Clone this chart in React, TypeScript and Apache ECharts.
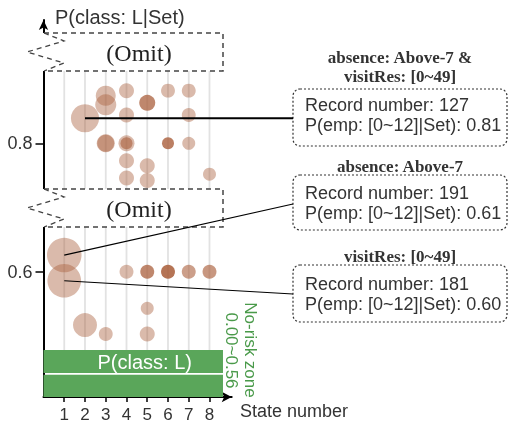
import React, { useEffect, useRef } from "react";
import * as echarts from "echarts";

// ---- data ----
const stateTicks = [1, 2, 3, 4, 5, 6, 7, 8];
const yTickValues = [0.6, 0.8];

const stateNumber = [2, 3, 3, 4, 4, 4, 4, 4, 4, 3, 3, 5, 5, 5, 6, 6, 7, 7, 7, 8, 1, 1, 4, 5, 6, 7, 8, 5, 2, 3, 5];
const probability = [
  0.839, 0.874, 0.86, 0.882, 0.844, 0.8, 0.8, 0.773, 0.746, 0.8, 0.8, 0.863, 0.765, 0.742, 0.882, 0.8, 0.882, 0.844,
  0.8, 0.752, 0.626, 0.586, 0.6, 0.6, 0.6, 0.6, 0.6, 0.543, 0.517, 0.503, 0.503,
];
const recordNumber = [
  127, 64, 71, 36, 36, 41, 23, 36, 36, 52, 46, 41, 36, 36, 31, 23, 31, 31, 27, 27, 191, 181, 31, 31, 31, 31, 31, 27, 92,
  31, 36,
];
const intensity = [
  0.43, 0.43, 0.43, 0.43, 0.43, 0.43, 0.6, 0.43, 0.43, 0.43, 0.43, 0.75, 0.43, 0.43, 0.43, 0.8, 0.43, 0.43, 0.43, 0.43,
  0.43, 0.43, 0.43, 0.75, 0.87, 0.6, 0.65, 0.43, 0.43, 0.43, 0.43,
];

const annotIndex = [0, 20, 21];
const annotTitles = [["absence: Above-7 &", "visitRes: [0~49]"], ["absence: Above-7"], ["visitRes: [0~49]"]];
const annotRecords = [127, 191, 181];
const annotPEmp = ["0.81", "0.61", "0.60"];

const SANS = "'Liberation Sans', Arial, Helvetica, sans-serif";
const SERIF = "'Liberation Serif', 'Times New Roman', serif";

export default function App() {
  const ref = useRef<HTMLDivElement>(null);
  useEffect(() => {
    const chart = echarts.init(ref.current!, null, { renderer: "svg" });
    const option: any = {
      animation: false,
      grid: { left: 43.5, right: 277.3, top: 20, bottom: 31, outerBoundsMode: "none", containLabel: false },
      xAxis: {
        type: "value",
        min: 0,
        max: 9.07,
        splitLine: { show: false },
        axisLine: {
          show: true,
          onZero: false,
          symbol: ["none", "arrow"],
          symbolSize: [8, 10],
          lineStyle: { color: "#000", width: 2 },
        },
        axisTick: { show: true, customValues: stateTicks, length: 5, lineStyle: { color: "#000", width: 1.5 } },
        axisLabel: { customValues: stateTicks, fontSize: 17, color: "#333", margin: 9, fontFamily: SANS },
      },
      yAxis: {
        type: "value",
        min: 0.405,
        max: 0.992,
        splitLine: { show: false },
        axisLine: {
          show: true,
          onZero: false,
          symbol: ["none", "arrow"],
          symbolSize: [7, 10],
          lineStyle: { color: "#000", width: 2 },
        },
        axisTick: { show: true, customValues: yTickValues, length: 8, lineStyle: { color: "#000", width: 1.5 } },
        axisLabel: {
          customValues: yTickValues,
          formatter: (v: number) => v.toFixed(1),
          fontSize: 18,
          color: "#333",
          margin: 11,
          fontFamily: SANS,
        },
      },
      series: [
        {
          type: "custom",
          z: 1,
          silent: true,
          data: stateTicks.map((s) => [s, 0.913]),
          encode: { x: 0, y: 1 },
          renderItem: (params: any, api: any) => {
            const x = api.value(0);
            const p1 = api.coord([x, api.value(1)]);
            const p2 = api.coord([x, 0.478]);
            return {
              type: "line",
              shape: { x1: p1[0], y1: p1[1], x2: p2[0], y2: p2[1] },
              style: { stroke: "#e2e2e2", lineWidth: 1.8 },
            };
          },
        },
        {
          type: "scatter",
          z: 2,
          silent: true,
          itemStyle: { opacity: 1 },
          data: stateNumber.map((s, i) => ({
            value: [s, probability[i]],
            itemStyle: { color: `rgba(170,95,60,${intensity[i]})` },
          })),
          symbolSize: (_v: any, p: any) => 2 * 1.25 * Math.sqrt(recordNumber[p.dataIndex]),
          markArea: {
            silent: true,
            label: { show: false },
            itemStyle: { color: "#5aa65a", opacity: 1 },
            data: [
              [{ coord: [0, 0.4425] }, { coord: [8.65, 0.478] }],
              [{ coord: [0, 0.405] }, { coord: [8.65, 0.4395] }],
            ],
          },
        },
      ],
    };
    chart.setOption(option);

    const pts = annotIndex.map(
      (i) => chart.convertToPixel({ seriesIndex: 1 }, [stateNumber[i], probability[i]]) as number[]
    );
    const ends = [
      [293, pts[0][1]],
      [293, 204],
      [293, 294],
    ];
    const boxes = [
      { y: 89, h: 57, titleY: [57, 76], textY: [105, 125] },
      { y: 175, h: 55, titleY: [166], textY: [193, 213] },
      { y: 265, h: 57, titleY: [256.5], textY: [284, 304] },
    ];

    const g: any[] = [];
    // break boxes
    const breaks = [
      { top: 33, bottom: 71 },
      { top: 189, bottom: 227 },
    ];
    breaks.forEach((b) => {
      const h = b.bottom - b.top;
      g.push({ type: "rect", z: 100, shape: { x: 40, y: b.top, width: 184, height: h }, style: { fill: "#fff" } });
      g.push({
        type: "polyline",
        z: 101,
        shape: { points: [[44, b.top], [223, b.top], [223, b.bottom], [44, b.bottom]] },
        style: { stroke: "#444", lineWidth: 1.5, lineDash: [5, 4], fill: null },
      });
      g.push({
        type: "polyline",
        z: 101,
        shape: {
          points: [
            [44, b.top],
            [64, b.top + 8],
            [27, b.top + h / 2],
            [64, b.bottom - 8],
            [44, b.bottom],
          ],
        },
        style: { stroke: "#444", lineWidth: 1.3, lineDash: [5, 4], fill: null },
      });
      g.push({
        type: "text",
        z: 102,
        x: 139,
        y: b.top + h / 2 + 1,
        style: {
          text: "(Omit)",
          fontFamily: SERIF,
          fontSize: 24,
          fill: "#222",
          align: "center",
          verticalAlign: "middle",
        },
      });
    });

    // annotation boxes
    boxes.forEach((b, k) => {
      g.push({
        type: "rect",
        z: 100,
        shape: { x: 293, y: b.y, width: 214, height: b.h, r: 7 },
        style: { fill: "#fff", stroke: "#333", lineWidth: 1.2, lineDash: [2, 2] },
      });
      annotTitles[k].forEach((t, j) => {
        g.push({
          type: "text",
          z: 102,
          x: 400,
          y: b.titleY[j],
          style: {
            text: t,
            fontFamily: SERIF,
            fontWeight: "bold",
            fontSize: 17,
            fill: "#333",
            align: "center",
            verticalAlign: "middle",
          },
        });
      });
      const lines = [`Record number: ${annotRecords[k]}`, `P(emp: [0~12]|Set): ${annotPEmp[k]}`];
      lines.forEach((t, j) => {
        g.push({
          type: "text",
          z: 102,
          x: 305,
          y: b.textY[j],
          style: { text: t, fontFamily: SANS, fontSize: 18, fill: "#333", align: "left", verticalAlign: "middle" },
        });
      });
    });

    // leader lines
    pts.forEach((p, k) => {
      g.push({
        type: "line",
        z: 110,
        shape: { x1: p[0], y1: p[1], x2: ends[k][0], y2: ends[k][1] },
        style: { stroke: "#000", lineWidth: k === 0 ? 2 : 1.2 },
      });
    });

    // texts
    g.push({
      type: "text",
      z: 102,
      x: 55,
      y: 17,
      style: { text: "P(class: L|Set)", fontFamily: SANS, fontSize: 20, fill: "#333", align: "left", verticalAlign: "middle" },
    });
    g.push({
      type: "text",
      z: 102,
      x: 240,
      y: 411,
      style: { text: "State number", fontFamily: SANS, fontSize: 18, fill: "#333", align: "left", verticalAlign: "middle" },
    });
    g.push({
      type: "text",
      z: 102,
      x: 144.7,
      y: 362,
      style: { text: "P(class: L)", fontFamily: SANS, fontSize: 20, fill: "#fff", align: "center", verticalAlign: "middle" },
    });
    g.push({
      type: "text",
      z: 102,
      x: 250,
      y: 350,
      rotation: -Math.PI / 2,
      style: { text: "No-risk zone", fontFamily: SANS, fontSize: 17, fill: "#4a9a4a", align: "center", verticalAlign: "middle" },
    });
    g.push({
      type: "text",
      z: 102,
      x: 231.7,
      y: 350.5,
      rotation: -Math.PI / 2,
      style: { text: "0.00~0.56", fontFamily: SANS, fontSize: 17, fill: "#4a9a4a", align: "center", verticalAlign: "middle" },
    });

    chart.setOption({ graphic: g });
    return () => chart.dispose();
  }, []);
  return <div ref={ref} style={{ position: "fixed", left: 0, top: 0, width: 509, height: 428 }} />;
}
